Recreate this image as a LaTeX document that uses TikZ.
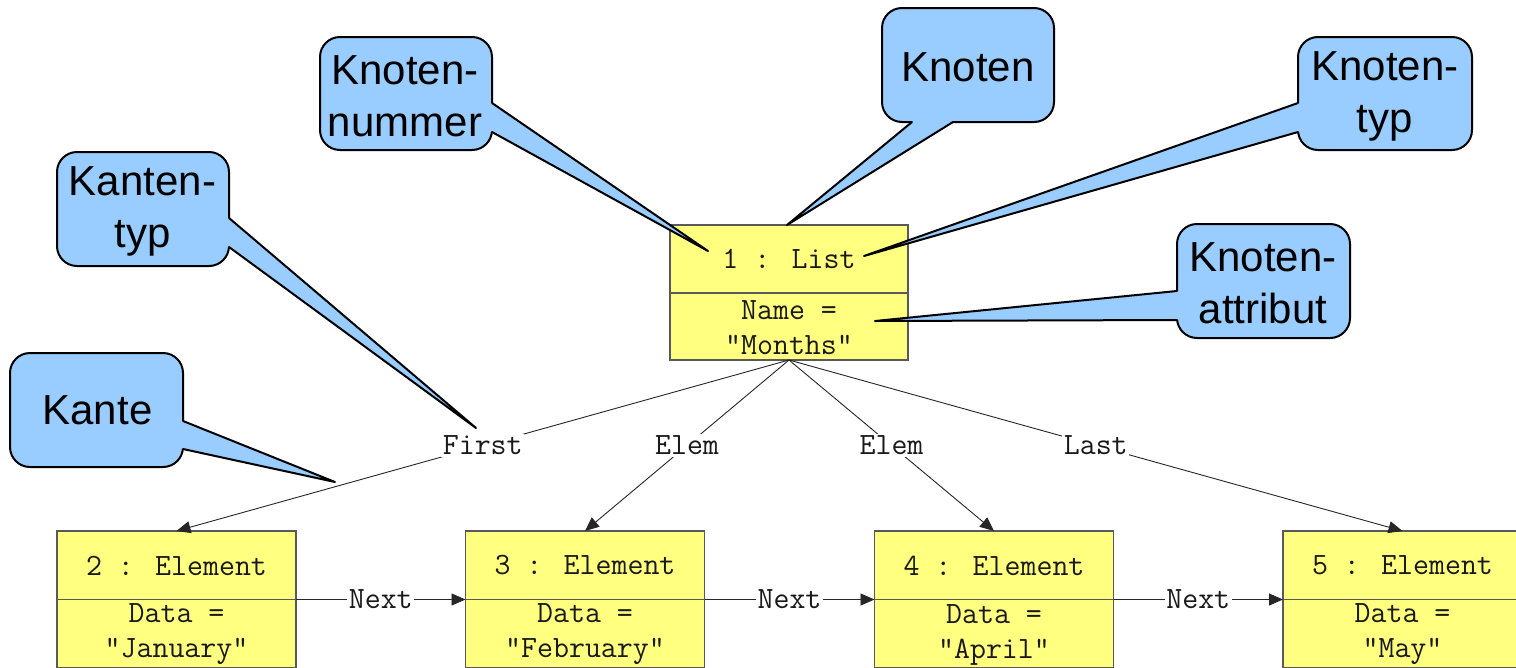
\documentclass[tikz,border=0pt]{standalone}
\usepackage{fontspec}
\newfontfamily\LSans{Liberation Sans}
\usetikzlibrary{arrows.meta}
\definecolor{callblue}{HTML}{99CCFF}
\definecolor{umlyellow}{HTML}{FFFF80}
% tail of a callout: #1,#2 base points on the box border, #3 tip, #4,#5 base points moved into the box
\newcommand\calltail[5]{%
  \fill[cfill] #4 -- #1 -- #3 -- #2 -- #5 -- cycle;
  \draw[cline] #1 -- #3 -- #2;}
\begin{document}
\begin{tikzpicture}[x=1pt,y=-1pt,
  umlbox/.style={draw=black!65, line width=1.2pt, fill=umlyellow, inner sep=0pt, outer sep=0pt},
  umltext/.style={font=\ttfamily\fontsize{31}{35}\selectfont, align=center, inner sep=0pt, text=black!90},
  lbl/.style={font=\ttfamily\fontsize{31}{35}\selectfont, fill=white, inner sep=1.5pt, text=black!90},
  edge/.style={draw=black!85, line width=0.9pt},
  arr/.style={edge, -{Triangle[length=14pt,width=12pt]}},
  callbox/.style={draw=black, line width=2pt, fill=callblue, rounded corners=20pt, inner sep=0pt, outer sep=0pt},
  calltext/.style={align=center, inner sep=0pt, font=\LSans\fontsize{42}{52}\selectfont},
  cfill/.style={fill=callblue},
  cline/.style={draw=black, line width=2pt, line join=round, line cap=round}]
\useasboundingbox (0,0) rectangle (1516,667);
\clip (0,0) rectangle (1516,667);

% ---------- UML object boxes ----------
\node[umlbox, minimum width=238pt, minimum height=135pt] (list) at (789,292.5) {};
\draw[umlbox] (670,293) -- (908,293);
\node[umltext] (listhead) at (789,259) {1 : List};
\node[umltext] (listattr) at (789,327.5) {Name =\\"Months"};

\node[umlbox, minimum width=239pt, minimum height=137pt] (e2) at (176.5,599.5) {};
\node[umlbox, minimum width=239pt, minimum height=137pt] (e3) at (585,599.5) {};
\node[umlbox, minimum width=239pt, minimum height=137pt] (e4) at (994,599.5) {};
\node[umlbox, minimum width=239pt, minimum height=137pt] (e5) at (1402.5,599.5) {};
\draw[umlbox] (e2.west) -- (e2.east);
\draw[umlbox] (e3.west) -- (e3.east);
\draw[umlbox] (e4.west) -- (e4.east);
\draw[umlbox] (e5.west) -- (e5.east);

\node[umltext] (e2head) at (176.5,565.5) {2 : Element};
\node[umltext] (e3head) at (585,565.5) {3 : Element};
\node[umltext] (e4head) at (994,565.5) {4 : Element};
\node[umltext] (e5head) at (1402.5,565.5) {5 : Element};
\node[umltext] (e2attr) at (176.5,634.5) {Data =\\"January"};
\node[umltext] (e3attr) at (585,634.5) {Data =\\"February"};
\node[umltext] (e4attr) at (994,634.5) {Data =\\"April"};
\node[umltext] (e5attr) at (1402.5,634.5) {Data =\\"May"};

% ---------- edges ----------
\draw[arr] (list.south) -- node[lbl] (lfirst) {First} (e2.north);
\draw[arr] (list.south) -- node[lbl] (lelem1) {Elem} (e3.north);
\draw[arr] (list.south) -- node[lbl] (lelem2) {Elem} (e4.north);
\draw[arr] (list.south) -- node[lbl] (llast) {Last} (e5.north);
\draw[arr] (e2.east) -- node[lbl] (lnext1) {Next} (e3.west);
\draw[arr] (e3.east) -- node[lbl] (lnext2) {Next} (e4.west);
\draw[arr] (e4.east) -- node[lbl] (lnext3) {Next} (e5.west);

% ---------- callouts ----------
\node[callbox, minimum width=172pt, minimum height=113pt] (cnum) at (406,93.5) {};
\calltail{(492,103)}{(492,132)}{(708,251)}{(487,103)}{(487,132)}
\node[calltext] (cnumt) at (405,96) {Knoten-\\nummer};

\node[callbox, minimum width=172pt, minimum height=114pt] (cknoten) at (968,65) {};
\calltail{(912,122)}{(953,122)}{(787,225)}{(912,117)}{(953,117)}
\node[calltext] (cknotent) at (968,67) {Knoten};

\node[callbox, minimum width=174pt, minimum height=113pt] (ctyp) at (1385,93.5) {};
\calltail{(1298,103)}{(1298,132)}{(864,256)}{(1303,103)}{(1303,132)}
\node[calltext] (ctypt) at (1385,96) {Knoten-\\typ};

\node[callbox, minimum width=172pt, minimum height=114pt] (ckantyp) at (143,209) {};
\calltail{(229,218)}{(229,247)}{(476,428)}{(224,218)}{(224,247)}
\node[calltext] (ckantypt) at (142.5,211.5) {Kanten-\\typ};

\node[callbox, minimum width=173pt, minimum height=114pt] (cattr) at (1263.5,281) {};
\calltail{(1177,291)}{(1177,320)}{(875,321)}{(1182,291)}{(1182,320)}
\node[calltext] (cattrt) at (1263,283.5) {Knoten-\\attribut};

\node[callbox, minimum width=173pt, minimum height=114pt] (ckante) at (96.5,410) {};
\calltail{(183,421)}{(183,449)}{(335,482)}{(178,421)}{(178,449)}
\node[calltext] (ckantet) at (97.5,410) {Kante};
\end{tikzpicture}
\end{document}
